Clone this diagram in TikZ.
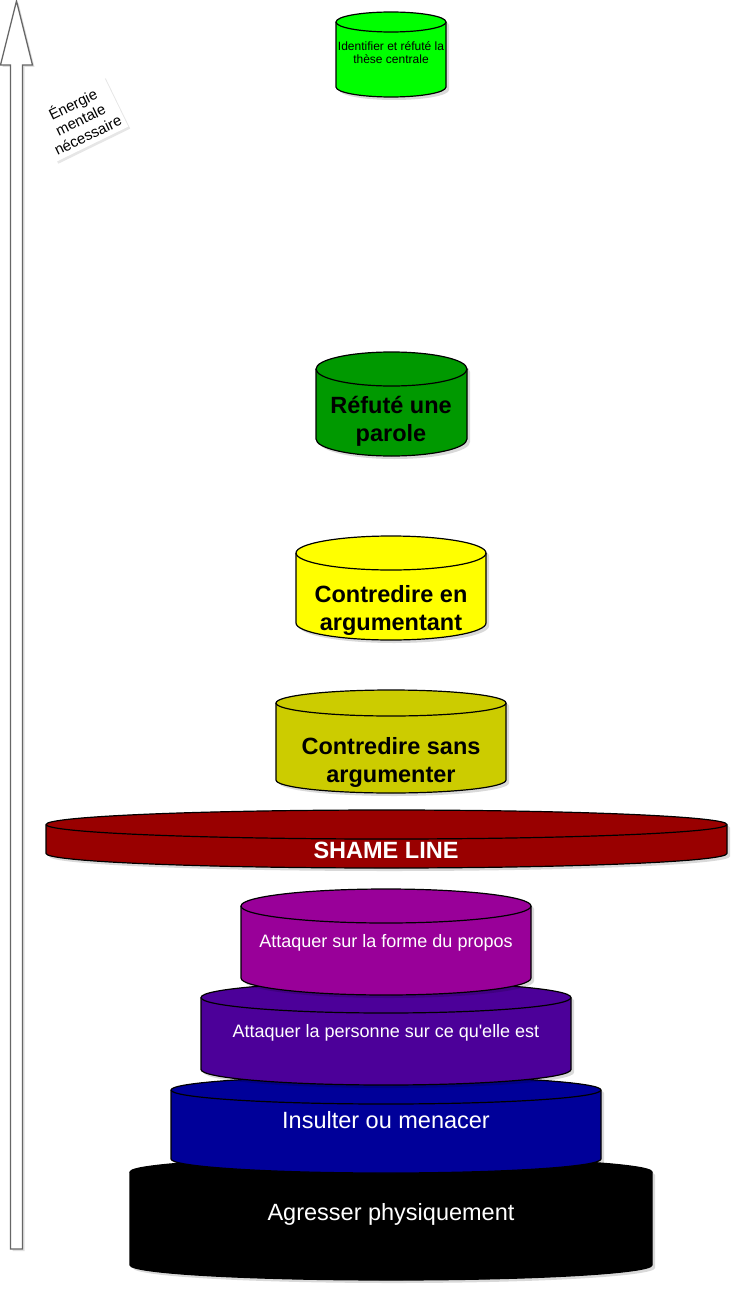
\documentclass[tikz,border=0pt]{standalone}
\usepackage{fontspec}
\setmainfont{Liberation Sans}
\usetikzlibrary{shadows}
\definecolor{cLime}{HTML}{00FF00}
\definecolor{cDGreen}{HTML}{009900}
\definecolor{cYellow}{HTML}{FFFF00}
\definecolor{cOlive}{HTML}{CCCC00}
\definecolor{cShame}{HTML}{990000}
\definecolor{cMagenta}{HTML}{990099}
\definecolor{cPurple}{HTML}{4C0099}
\definecolor{cBlue}{HTML}{000099}
\definecolor{cArrow}{HTML}{666666}
\tikzset{
  cylline/.style={draw=black, line width=1.2pt, line join=round},
  cyltxt/.style={inner sep=0pt, align=center, anchor=base},
  bigtxt/.style={cyltxt, font=\fontsize{23.5}{28}\selectfont},
  bigbold/.style={cyltxt, font=\fontsize{23.5}{28}\selectfont\bfseries},
  midtxt/.style={cyltxt, font=\fontsize{18}{21}\selectfont, text=white},
  lbl/.style={fill=white, align=center, font=\fontsize{15}{17}\selectfont,
    minimum width=80pt, minimum height=56pt, inner sep=1pt,
    drop shadow={opacity=0.2, shadow xshift=2pt, shadow yshift=-2pt}},
}
\newcommand{\mycyl}[6]{%
  \pgfmathsetmacro\myrx{(#3-#1)/2}%
  \fill[black,opacity=0.15] (#1+3,#2+#5+3) -- (#1+3,#4-#5+3)
    arc[start angle=180,end angle=360,x radius=\myrx pt,y radius=#5pt]
    -- (#3+3,#2+#5+3)
    arc[start angle=0,end angle=180,x radius=\myrx pt,y radius=#5pt] -- cycle;
  \draw[cylline,fill=#6] (#1,#2+#5) -- (#1,#4-#5)
    arc[start angle=180,end angle=360,x radius=\myrx pt,y radius=#5pt]
    -- (#3,#2+#5)
    arc[start angle=0,end angle=180,x radius=\myrx pt,y radius=#5pt] -- cycle;
  \draw[cylline] (#1,#2+#5)
    arc[start angle=180,end angle=360,x radius=\myrx pt,y radius=#5pt];
}
\begin{document}
\begin{tikzpicture}[x=1pt,y=-1pt]
\useasboundingbox (0,0) rectangle (739,1292);
% axis arrow
\fill[black,opacity=0.12] (18.5,3) -- (34.5,67) -- (24.5,67) -- (24.5,1251) -- (12.5,1251) -- (12.5,67) -- (2.5,67) -- cycle;
\draw[draw=cArrow, line width=1.3pt, fill=white, line join=miter]
  (16.5,1) -- (32.5,65) -- (22.5,65) -- (22.5,1249) -- (10.5,1249) -- (10.5,65) -- (0.5,65) -- cycle;
\node[lbl, rotate=26] (energie) at (80,119) {Énergie\\mentale\\nécessaire};
% cylinders, bottom first
\mycyl{130}{1157}{652}{1280}{15}{black}
\node[bigtxt, text=white] (agresser) at (391,1220) {Agresser physiquement};
\mycyl{171}{1076}{601}{1173}{14}{cBlue}
\node[bigtxt, text=white] (insulter) at (386,1128) {Insulter ou menacer};
\mycyl{201}{982}{571}{1085}{15.5}{cPurple}
\node[midtxt] (personne) at (386,1037) {Attaquer la personne sur ce qu\textquotesingle elle est};
\mycyl{241}{889}{531}{995}{17}{cMagenta}
\node[midtxt] (forme) at (386,947) {Attaquer sur la forme du propos};
\mycyl{46}{810}{727}{868}{14.5}{cShame}
\node[bigbold, text=white] (shame) at (386,858) {SHAME LINE};
\mycyl{276}{690}{506}{793}{13}{cOlive}
\node[bigbold] (sans) at (391,782) {Contredire sans\\argumenter};
\mycyl{296}{536}{486}{640}{17}{cYellow}
\node[bigbold] (en) at (391,630) {Contredire en\\argumentant};
\mycyl{316}{352}{467}{456}{17}{cDGreen}
\node[bigbold] (parole) at (391,441) {Réfuté une\\parole};
\mycyl{336}{12}{446}{97}{10}{cLime}
\node[cyltxt, font=\fontsize{12}{13.5}\selectfont] (these) at (391,64) {Identifier et réfuté la\\thèse centrale};
\end{tikzpicture}
\end{document}
